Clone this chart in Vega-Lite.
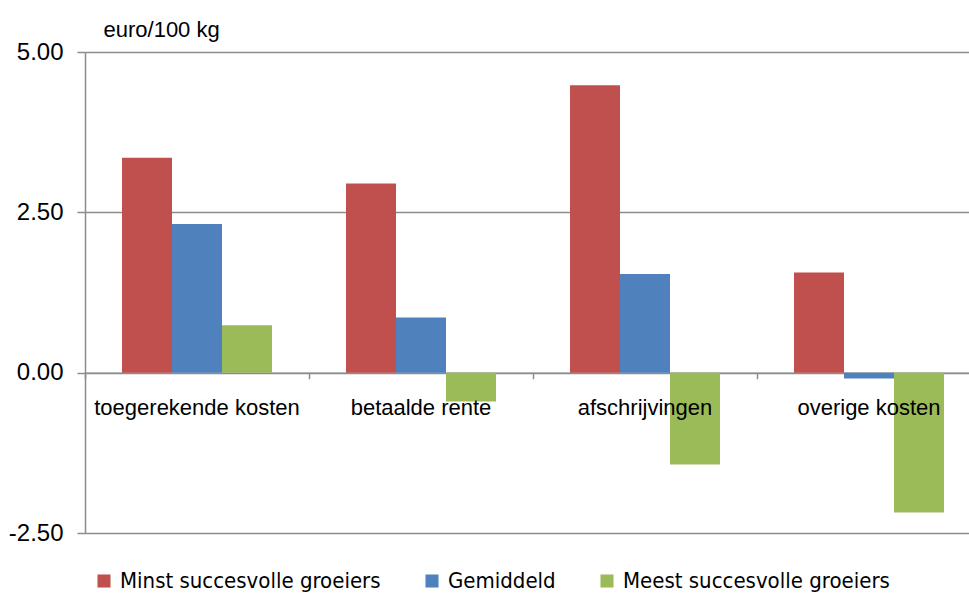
{
  "$schema": "https://vega.github.io/schema/vega-lite/v6.json",
  "width": 884,
  "height": 481,
  "autosize": "none",
  "padding": {"left": 85, "top": 52, "right": 0, "bottom": 63},
  "background": "white",
  "config": {
    "view": {"stroke": null},
    "font": "Liberation Sans"
  },
  "data": {
    "values": [
      {"categorie": "toegerekende kosten", "groep": "Minst succesvolle groeiers", "waarde": 3.35},
      {"categorie": "toegerekende kosten", "groep": "Gemiddeld", "waarde": 2.32},
      {"categorie": "toegerekende kosten", "groep": "Meest succesvolle groeiers", "waarde": 0.74},
      {"categorie": "betaalde rente", "groep": "Minst succesvolle groeiers", "waarde": 2.95},
      {"categorie": "betaalde rente", "groep": "Gemiddeld", "waarde": 0.86},
      {"categorie": "betaalde rente", "groep": "Meest succesvolle groeiers", "waarde": -0.45},
      {"categorie": "afschrijvingen", "groep": "Minst succesvolle groeiers", "waarde": 4.48},
      {"categorie": "afschrijvingen", "groep": "Gemiddeld", "waarde": 1.54},
      {"categorie": "afschrijvingen", "groep": "Meest succesvolle groeiers", "waarde": -1.43},
      {"categorie": "overige kosten", "groep": "Minst succesvolle groeiers", "waarde": 1.56},
      {"categorie": "overige kosten", "groep": "Gemiddeld", "waarde": -0.09},
      {"categorie": "overige kosten", "groep": "Meest succesvolle groeiers", "waarde": -2.18}
    ]
  },
  "layer": [
    {
      "mark": {"type": "bar"},
      "encoding": {
        "x": {
          "field": "categorie", "type": "nominal", "sort": null,
          "scale": {"range": [0, 896], "paddingInner": 0, "paddingOuter": 0},
          "axis": {
            "title": null, "labels": false, "bandPosition": 0, "offset": -160.3,
            "domainColor": "#8c8c8c", "domainWidth": 1.5, "tickColor": "#8c8c8c", "tickSize": 6, "tickWidth": 1.5
          }
        },
        "xOffset": {
          "field": "groep", "type": "nominal", "sort": ["Minst succesvolle groeiers", "Gemiddeld", "Meest succesvolle groeiers"],
          "scale": {"paddingInner": 0, "paddingOuter": 0.74}
        },
        "y": {
          "field": "waarde", "type": "quantitative",
          "scale": {"domain": [-2.5, 5], "nice": false, "zero": false},
          "axis": {
            "values": [-2.5, 0, 2.5, 5],
            "labelExpr": "replace(format(datum.value, '.2f'), '\u2212', '-')",
            "title": "euro/100 kg", "titleAngle": 0, "titleAlign": "left", "titleBaseline": "alphabetic",
            "titleX": 18, "titleY": -16, "titleFontSize": 22, "titleFontWeight": "normal", "titleColor": "#000",
            "labelFontSize": 24, "labelColor": "#000", "labelPadding": 14,
            "grid": true, "gridColor": "#8c8c8c", "gridWidth": 1.5,
            "domainColor": "#8c8c8c", "domainWidth": 1.5,
            "tickColor": "#8c8c8c", "tickSize": 8, "tickWidth": 1.5
          }
        },
        "color": {
          "field": "groep", "type": "nominal",
          "sort": ["Minst succesvolle groeiers", "Gemiddeld", "Meest succesvolle groeiers"],
          "scale": {"domain": ["Minst succesvolle groeiers", "Gemiddeld", "Meest succesvolle groeiers"], "range": ["#C0504D", "#4F81BD", "#9BBB59"]},
          "legend": {
            "title": null, "orient": "none", "direction": "horizontal",
            "legendX": 8, "legendY": 518,
            "symbolType": "square", "symbolSize": 170, "symbolStrokeWidth": 0, "symbolOpacity": 1,
            "labelFont": "DejaVu Sans Condensed", "labelFontSize": 22, "labelColor": "#000",
            "labelOffset": 5, "columnPadding": 40, "labelLimit": 400
          }
        }
      }
    },
    {
      "data": {
        "values": [
          {"categorie": "toegerekende kosten"},
          {"categorie": "betaalde rente"},
          {"categorie": "afschrijvingen"},
          {"categorie": "overige kosten"}
        ]
      },
      "mark": {"type": "text", "fontSize": 22, "color": "#000", "baseline": "middle", "dy": 35},
      "encoding": {
        "x": {"field": "categorie", "type": "nominal", "sort": null},
        "y": {"datum": 0},
        "text": {"field": "categorie"}
      }
    }
  ]
}
